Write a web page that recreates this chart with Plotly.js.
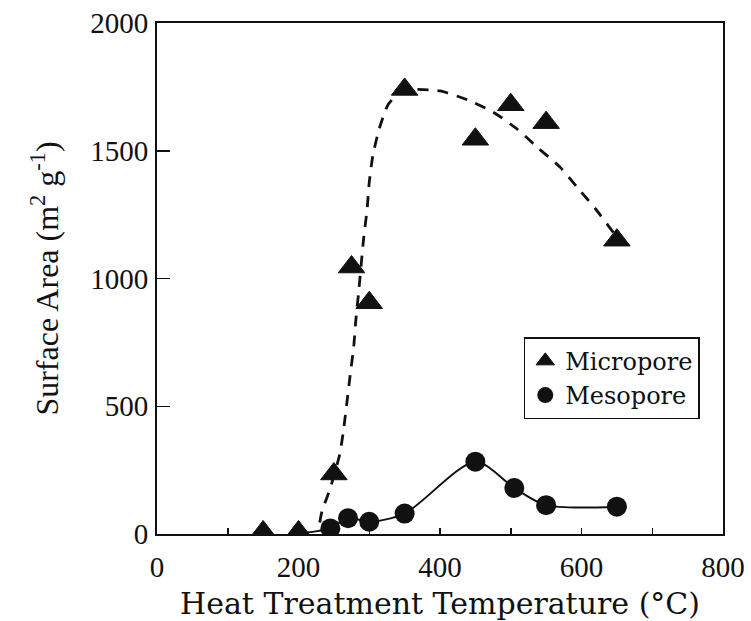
<!DOCTYPE html>
<html>
<head>
<meta charset="utf-8">
<script src="https://cdn.plot.ly/plotly-3.0.1.min.js"></script>
<style>
  html, body { margin: 0; padding: 0; background: #ffffff; }
  #chart { width: 751px; height: 621px; }
</style>
</head>
<body>
<div id="chart"></div>
<script>
// Surface area of the carbon vs. heat treatment temperature
const microTemp = [150, 200, 250, 275, 300, 350, 450, 500, 550, 650];
const microArea = [8, 8, 235, 1045, 905, 1740, 1545, 1680, 1610, 1150];

const mesoTemp = [245, 270, 300, 350, 450, 505, 550, 650];
const mesoArea = [22, 62, 48, 80, 283, 180, 113, 107];

// hand-drawn trend curves through each series
const microFitTemp = [230, 233, 245, 258, 263, 273, 278, 281, 285, 292, 297, 300, 305, 314, 327, 345, 365, 400, 440, 476, 509, 539, 570, 596, 620, 645];
const microFitArea = [45, 87, 180, 309, 393, 621, 732, 836, 946, 1155, 1272, 1376, 1480, 1585, 1682, 1730, 1740, 1734, 1698, 1650, 1585, 1510, 1435, 1350, 1272, 1180];

const mesoFitTemp = [210, 245, 270, 300, 350, 450, 505, 550, 650];
const mesoFitArea = [5, 22, 62, 48, 80, 283, 180, 113, 107];

const xTickVals = [0, 200, 400, 600, 800];
const yTickVals = [0, 500, 1000, 1500, 2000];

const ink = '#111111';
const serif = 'Liberation Serif, Times New Roman, serif';
const wideSerif = 'DejaVu Serif, serif';

const traces = [
  {
    x: microFitTemp, y: microFitArea, type: 'scatter', mode: 'lines',
    line: { color: ink, width: 2.8, dash: '11px,9px', shape: 'spline', smoothing: 0.6 },
    showlegend: false, hoverinfo: 'skip'
  },
  {
    x: mesoFitTemp, y: mesoFitArea, type: 'scatter', mode: 'lines',
    line: { color: ink, width: 2, shape: 'spline', smoothing: 0.8 },
    showlegend: false, hoverinfo: 'skip'
  },
  {
    x: microTemp, y: microArea, type: 'scatter', mode: 'markers', name: 'Micropore',
    marker: { symbol: 'triangle-up', size: 23, color: ink, line: { width: 1, color: ink } }
  },
  {
    x: mesoTemp, y: mesoArea, type: 'scatter', mode: 'markers', name: 'Mesopore',
    marker: { symbol: 'circle', size: 20, color: ink, line: { width: 0 } }
  }
];

const layout = {
  width: 751, height: 621,
  margin: { l: 157, r: 28, t: 23, b: 87 },
  paper_bgcolor: '#ffffff', plot_bgcolor: '#ffffff',
  showlegend: true,
  legend: {
    x: 0.648, y: 0.385, xanchor: 'left', yanchor: 'top',
    bordercolor: ink, borderwidth: 1.5, bgcolor: '#ffffff',
    font: { family: wideSerif, size: 24, color: ink },
    itemwidth: 30, tracegroupgap: 0
  },
  xaxis: {
    range: [0, 800], tickvals: xTickVals,
    showgrid: false, zeroline: false,
    showline: true, mirror: true, linecolor: ink, linewidth: 2,
    ticks: 'inside', ticklen: 6, tickwidth: 1.5, tickcolor: ink,
    minor: { dtick: 100, ticks: 'inside', ticklen: 6, tickwidth: 1.5, tickcolor: ink },
    tickfont: { family: serif, size: 29, color: ink },
    ticklabelstandoff: 6,
    title: { text: 'Heat Treatment Temperature (°C)', font: { family: wideSerif, size: 30, color: ink }, standoff: 12 }
  },
  yaxis: {
    range: [0, 2000], tickvals: yTickVals,
    showgrid: false, zeroline: false,
    showline: true, mirror: true, linecolor: ink, linewidth: 2,
    ticks: 'inside', ticklen: 13, tickwidth: 1.5, tickcolor: ink,
    tickfont: { family: serif, size: 29, color: ink },
    ticklabelstandoff: 1,
    title: { text: 'Surface Area (m<sup>2</sup> g<sup>-1</sup>)', font: { family: serif, size: 32, color: ink }, standoff: 22 }
  }
};

Plotly.newPlot('chart', traces, layout, { displayModeBar: false, staticPlot: true });
</script>
</body>
</html>
